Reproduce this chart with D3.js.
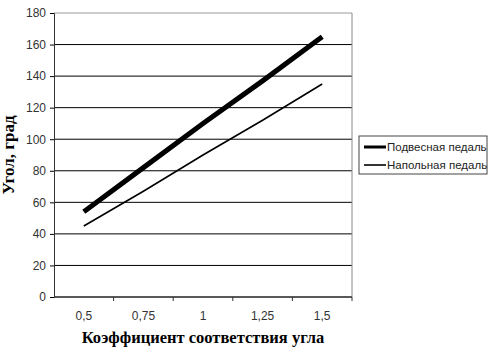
<!DOCTYPE html>
<html>
<head>
<meta charset="utf-8">
<script src="https://cdn.jsdelivr.net/npm/d3@7"></script>
<style>
  body { margin: 0; background: #fff; }
  svg text { font-family: "Liberation Sans", Arial, sans-serif; }
</style>
</head>
<body>
<div id="chart"></div>
<script>
const categories = ['0,5', '0,75', '1', '1,25', '1,5'];
const hangingPedal = [54, 82, 110, 137, 165];
const floorPedal = [45, 67, 90, 112, 135];
const yTicks = [0, 20, 40, 60, 80, 100, 120, 140, 160, 180];

const series = [
    {name: 'Подвесная педаль', values: hangingPedal, width: 5, legendWidth: 3},
    {name: 'Напольная педаль', values: floorPedal, width: 1.6, legendWidth: 1.6}
];

const margin = {top: 13, right: 141, bottom: 55, left: 54};
const width = 493 - margin.left - margin.right;
const height = 352 - margin.top - margin.bottom;

const svg = d3.select('#chart')
    .append('svg')
    .attr('width', width + margin.left + margin.right)
    .attr('height', height + margin.top + margin.bottom)
    .append('g')
    .attr('transform', `translate(${margin.left},${margin.top})`);

const x = d3.scaleBand()
    .domain(categories)
    .range([0, width]);

const y = d3.scaleLinear()
    .domain([0, 180])
    .range([height, 0]);

// сетка
svg.append('g')
    .selectAll('line')
    .data(yTicks)
    .join('line')
    .attr('x1', 0)
    .attr('x2', width)
    .attr('y1', d => y(d))
    .attr('y2', d => y(d))
    .attr('stroke', d => d === 180 ? '#999' : '#000')
    .attr('stroke-width', 1);

// рамка справа
svg.append('line')
    .attr('x1', width).attr('x2', width)
    .attr('y1', 0).attr('y2', height)
    .attr('stroke', '#888');

// ось Y
const yAxis = svg.append('g')
    .call(d3.axisLeft(y).tickValues(yTicks).tickSize(4).tickPadding(4));
yAxis.select('.domain').attr('stroke', '#333');
yAxis.selectAll('text').attr('font-size', 12).attr('fill', '#333');

// ось X (метки между категориями)
svg.append('line')
    .attr('x1', 0).attr('x2', width)
    .attr('y1', height).attr('y2', height)
    .attr('stroke', '#333');
svg.append('g')
    .selectAll('line')
    .data(categories)
    .join('line')
    .attr('x1', d => x(d) + x.bandwidth())
    .attr('x2', d => x(d) + x.bandwidth())
    .attr('y1', height)
    .attr('y2', height + 4)
    .attr('stroke', '#333');
svg.append('g')
    .selectAll('text')
    .data(categories)
    .join('text')
    .attr('x', d => x(d) + x.bandwidth() / 2)
    .attr('y', height + 23)
    .attr('text-anchor', 'middle')
    .attr('font-size', 12)
    .attr('fill', '#333')
    .text(d => d);

// подписи осей
svg.append('text')
    .attr('x', width / 2)
    .attr('y', height + 46)
    .attr('text-anchor', 'middle')
    .style('font-family', '"Liberation Serif", "Times New Roman", serif')
    .attr('font-weight', 'bold')
    .attr('font-size', 16.5)
    .text('Коэффициент соответствия угла');

svg.append('text')
    .attr('transform', `translate(${-40},${height / 2}) rotate(-90)`)
    .attr('text-anchor', 'middle')
    .style('font-family', '"Liberation Serif", "Times New Roman", serif')
    .attr('font-weight', 'bold')
    .attr('font-size', 17)
    .text('Угол, град');

// линии
const line = d3.line()
    .x((d, i) => x(categories[i]) + x.bandwidth() / 2)
    .y(d => y(d));

svg.selectAll('.series')
    .data(series)
    .join('path')
    .attr('class', 'series')
    .attr('fill', 'none')
    .attr('stroke', '#000')
    .attr('stroke-width', d => d.width)
    .attr('d', d => line(d.values));

// легенда
const legend = svg.append('g')
    .attr('transform', `translate(${width + 7},${123})`);
legend.append('rect')
    .attr('width', 128)
    .attr('height', 38)
    .attr('fill', '#fff')
    .attr('stroke', '#444');
series.forEach((s, i) => {
    const ly = 11 + i * 18;
    legend.append('line')
        .attr('x1', 5).attr('x2', 27)
        .attr('y1', ly).attr('y2', ly)
        .attr('stroke', '#000')
        .attr('stroke-width', s.legendWidth);
    legend.append('text')
        .attr('x', 28)
        .attr('y', ly + 4)
        .attr('font-size', 11.5)
        .attr('fill', '#222')
        .text(s.name);
});
</script>
</body>
</html>
